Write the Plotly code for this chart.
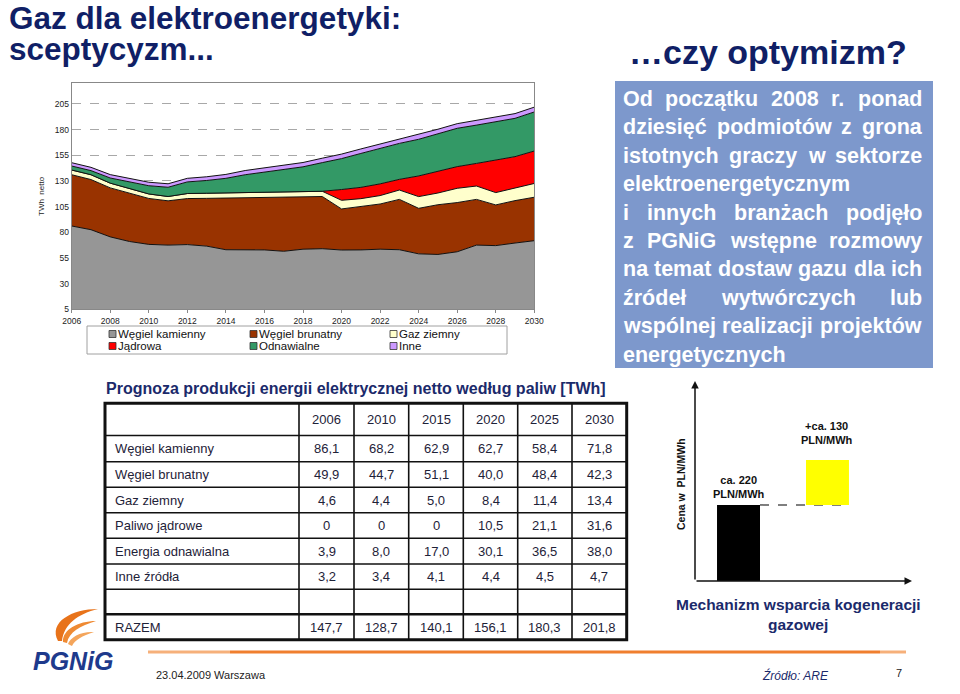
import plotly.graph_objects as go

W, H = 960, 694


def px(x):
    return x / W


def py(y):
    return 1 - y / H


# ---------------- data: stacked area chart ----------------
years = [2006, 2007, 2008, 2009, 2010, 2011, 2012, 2013, 2014, 2015, 2016, 2017, 2018,
         2019, 2020, 2021, 2022, 2023, 2024, 2025, 2026, 2027, 2028, 2029, 2030]
wegiel_kamienny = [86.1, 82.5, 75.5, 71.0, 68.2, 67.5, 68.0, 66.5, 63.0, 62.9, 62.8, 61.5, 63.5,
                   64.0, 62.7, 62.8, 63.5, 63.0, 59.0, 58.4, 61.0, 67.5, 67.0, 69.5, 71.8]
wegiel_brunatny = [49.9, 48.8, 47.7, 47.3, 44.7, 43.1, 44.8, 46.5, 50.2, 51.1, 51.2, 52.5, 50.7,
                   50.8, 40.0, 42.1, 44.0, 49.0, 44.3, 48.4, 47.9, 44.5, 39.6, 41.3, 42.3]
gaz_ziemny = [4.6, 4.7, 4.6, 4.4, 4.4, 4.2, 4.9, 5.0, 5.0, 5.0, 5.0, 5.0, 4.9,
              5.1, 8.4, 7.8, 8.2, 9.1, 11.4, 11.4, 13.9, 13.0, 12.0, 12.0, 13.4]
jadrowa = [0, 0, 0, 0, 0, 0, 0, 0, 0, 0, 0, 0, 0,
           0, 10.5, 11.0, 11.4, 10.4, 20.1, 21.1, 21.1, 22.0, 31.8, 30.8, 31.6]
odnawialne = [3.9, 4.0, 5.0, 6.2, 8.0, 9.0, 11.3, 12.4, 14.3, 17.0, 19.8, 22.0, 24.6,
              27.9, 30.1, 33.0, 34.4, 35.0, 35.7, 36.5, 37.3, 37.3, 37.3, 37.3, 38.0]
inne = [3.2, 3.2, 3.3, 3.3, 3.4, 3.4, 3.5, 3.6, 3.8, 4.1, 4.1, 4.2, 4.2,
        4.3, 4.4, 4.4, 4.4, 4.4, 4.5, 4.5, 4.5, 4.6, 4.6, 4.6, 4.7]

series_names = ["Węgiel kamienny", "Węgiel brunatny", "Gaz ziemny", "Jądrowa", "Odnawialne", "Inne"]
series_values = [wegiel_kamienny, wegiel_brunatny, gaz_ziemny, jadrowa, odnawialne, inne]
series_colors = ["#969696", "#993300", "#FFFFCC", "#FF0000", "#339966", "#CC99FF"]

y_ticks = [5, 30, 55, 80, 105, 130, 155, 180, 205]
x_ticks = [2006, 2008, 2010, 2012, 2014, 2016, 2018, 2020, 2022, 2024, 2026, 2028, 2030]

# ---------------- data: table ----------------
table_years = ["2006", "2010", "2015", "2020", "2025", "2030"]
table_labels = ["Węgiel kamienny", "Węgiel brunatny", "Gaz ziemny", "Paliwo jądrowe",
                "Energia odnawialna", "Inne źródła", "", "RAZEM"]
t_kamienny = ["86,1", "68,2", "62,9", "62,7", "58,4", "71,8"]
t_brunatny = ["49,9", "44,7", "51,1", "40,0", "48,4", "42,3"]
t_gaz = ["4,6", "4,4", "5,0", "8,4", "11,4", "13,4"]
t_jadrowe = ["0", "0", "0", "10,5", "21,1", "31,6"]
t_odnawialna = ["3,9", "8,0", "17,0", "30,1", "36,5", "38,0"]
t_inne = ["3,2", "3,4", "4,1", "4,4", "4,5", "4,7"]
t_puste = ["", "", "", "", "", ""]
t_razem = ["147,7", "128,7", "140,1", "156,1", "180,3", "201,8"]
table_values = [t_kamienny, t_brunatny, t_gaz, t_jadrowe, t_odnawialna, t_inne, t_puste, t_razem]

# ---------------- data: price bars ----------------
price_pos = [1, 2]
price_base = [0, 220]
price_values = [220, 130]
price_colors = ["#000000", "#FFFF00"]
price_labels = ["ca. 220<br>PLN/MWh", "+ca. 130<br>PLN/MWh"]

NAVY = "#101F66"
FONT = "Liberation Sans, Arial, sans-serif"

fig = go.Figure()

for name, vals, col in zip(series_names, series_values, series_colors):
    fig.add_trace(go.Scatter(
        x=years, y=vals, name=name, stackgroup="one", mode="lines",
        line=dict(color="#111111", width=1), fillcolor=col, showlegend=False,
        xaxis="x", yaxis="y", hoverinfo="x+y+name"))

fig.add_trace(go.Bar(
    x=price_pos, y=price_values, base=price_base, width=0.483,
    marker=dict(color=price_colors, line=dict(width=0)),
    xaxis="x2", yaxis="y2", showlegend=False))

shapes = []
annotations = []


def note(x, y, text, size, color="#222", xanchor="center", yanchor="middle", **kw):
    d = dict(x=px(x), y=py(y), xref="paper", yref="paper", text=text, showarrow=False,
             xanchor=xanchor, yanchor=yanchor, borderpad=0, borderwidth=0,
             font=dict(size=size, color=color))
    d.update(kw)
    annotations.append(d)


# ---- area chart axis title
note(41, 196, "TWh  netto", 8, textangle=-90)

# ---- manual legend
shapes.append(dict(type="rect", xref="paper", yref="paper", x0=px(87), x1=px(507),
                   y0=py(326), y1=py(354), line=dict(color="#A0A0A0", width=1), fillcolor="white"))
leg_x = [109, 250, 390]
leg_y = [334, 346]
for i, (name, col) in enumerate(zip(series_names, series_colors)):
    cx = leg_x[i % 3]
    cy = leg_y[i // 3]
    shapes.append(dict(type="rect", xref="paper", yref="paper", x0=px(cx), x1=px(cx + 7),
                       y0=py(cy - 3.5), y1=py(cy + 3.5), fillcolor=col,
                       line=dict(color="#333", width=0.8)))
    note(cx + 9, cy, name, 11.5, "#111", xanchor="left")

# ---- titles
note(9, 18, "<b>Gaz dla elektroenergetyki:</b>", 31.5, NAVY, xanchor="left")
note(9, 49, "<b>sceptycyzm...</b>", 31.5, NAVY, xanchor="left")
note(907, 52, "<b>…czy optymizm?</b>", 34, NAVY, xanchor="right")

# ---- blue text box
shapes.append(dict(type="rect", xref="paper", yref="paper", x0=px(615), x1=px(933),
                   y0=py(81), y1=py(368), fillcolor="#7D98CC", line=dict(width=0), layer="below"))

AB = {" ": 278, ".": 278, ",": 278, ":": 333, "?": 611,
      "a": 556, "b": 611, "c": 556, "d": 611, "e": 556, "f": 333, "g": 611, "h": 611, "i": 278,
      "j": 278, "k": 556, "l": 278, "m": 889, "n": 611, "o": 611, "p": 611, "q": 611, "r": 389,
      "s": 556, "t": 333, "u": 611, "v": 556, "w": 778, "x": 556, "y": 556, "z": 500,
      "ą": 556, "ę": 556, "ć": 556, "ó": 611, "ż": 500, "ź": 500, "ł": 278, "ś": 556, "ń": 611,
      "O": 778, "P": 667, "G": 778, "N": 722}


def tw(s, size):
    return sum(AB.get(ch, 556) for ch in s) / 1000.0 * size


box_lines = [("Od początku 2008 r. ponad", True),
             ("dziesięć podmiotów z grona", True),
             ("istotnych graczy w sektorze", True),
             ("elektroenergetycznym", False),
             ("i innych branżach podjęło", True),
             ("z PGNiG wstępne rozmowy", True),
             ("na temat dostaw gazu dla ich", True),
             ("źródeł wytwórczych lub", True),
             ("wspólnej realizacji projektów", True),
             ("energetycznych", False)]
BS = 21.5
L, R = 623.0, 922.0
for i, (line, just) in enumerate(box_lines):
    yy = 99 + 28.4 * i
    words = line.split()
    if just and len(words) > 1:
        tot = sum(tw(w, BS) for w in words)
        gap = (R - L - tot) / (len(words) - 1)
        x = L
        for w in words:
            note(x, yy, "<b>%s</b>" % w, BS, "white", xanchor="left")
            x += tw(w, BS) + gap
    else:
        note(L, yy, "<b>%s</b>" % line, BS, "white", xanchor="left")

# ---- table
note(106, 388, "<b>Prognoza produkcji energii elektrycznej netto według paliw [TWh]</b>", 16,
     "#1B2A6B", xanchor="left")
col_x = [105, 299, 354, 408.7, 463.3, 517.7, 572, 626.7]
row_y = [403.3, 435.5, 461.7, 487.3, 512.7, 538.3, 564, 589.3, 614.3, 639.8]
for xv in col_x[1:-1]:
    shapes.append(dict(type="line", xref="paper", yref="paper", x0=px(xv), x1=px(xv),
                       y0=py(row_y[0]), y1=py(row_y[-1]), line=dict(color="#111", width=1.6)))
inner_rows = row_y[1:-1]
for k, yv in enumerate(inner_rows):
    wdt = 2.6 if k == len(inner_rows) - 1 else 1.6
    shapes.append(dict(type="line", xref="paper", yref="paper", x0=px(col_x[0]), x1=px(col_x[-1]),
                       y0=py(yv), y1=py(yv), line=dict(color="#111", width=wdt)))
shapes.append(dict(type="rect", xref="paper", yref="paper", x0=px(col_x[0]), x1=px(col_x[-1]),
                   y0=py(row_y[0]), y1=py(row_y[-1]), line=dict(color="#111", width=3)))
TCOL = "#1E2238"
for j, yr in enumerate(table_years):
    note((col_x[j + 1] + col_x[j + 2]) / 2, (row_y[0] + row_y[1]) / 2, yr, 13, TCOL)
for r, (lab, vals) in enumerate(zip(table_labels, table_values)):
    yc = (row_y[r + 1] + row_y[r + 2]) / 2
    if lab:
        note(115, yc, lab, 13, TCOL, xanchor="left")
    for j, v in enumerate(vals):
        if v:
            note((col_x[j + 1] + col_x[j + 2]) / 2, yc, v, 13, TCOL)

# ---- price bar chart decorations
annotations.append(dict(x=px(695), y=py(381), xref="paper", yref="paper", text="", showarrow=True,
                        ax=0, ay=200, arrowhead=2, arrowsize=1, arrowwidth=1.5, arrowcolor="#111"))
annotations.append(dict(x=px(912), y=py(581), xref="paper", yref="paper", text="", showarrow=True,
                        ax=-217, ay=0, arrowhead=2, arrowsize=1, arrowwidth=1.5, arrowcolor="#111"))
shapes.append(dict(type="line", xref="x2", yref="y2", x0=price_pos[0] + 0.2415, x1=price_pos[1] + 0.2415,
                   y0=price_base[1], y1=price_base[1], line=dict(color="#555", width=1.5, dash="dash"),
                   layer="below"))
for p, b, v, lab, ys in zip(price_pos, price_base, price_values, price_labels, [3, 12]):
    annotations.append(dict(x=p, y=b + v, xref="x2", yref="y2", text="<b>%s</b>" % lab,
                            xanchor="center", yanchor="bottom", yshift=ys, showarrow=False,
                            font=dict(size=11, color="#111")))
note(681, 484, "<b>Cena w  PLN/MWh</b>", 10.5, "#111", textangle=-90)
note(798, 604, "<b>Mechanizm wsparcia kogeneracji</b>", 15.5, "#1B2A6B")
note(798, 624, "<b>gazowej</b>", 15.5, "#1B2A6B")

# ---- footer
shapes.append(dict(type="line", xref="paper", yref="paper", x0=px(148), x1=px(230), y0=py(652), y1=py(652),
                   line=dict(color="#F6B07A", width=3)))
shapes.append(dict(type="line", xref="paper", yref="paper", x0=px(230), x1=px(880), y0=py(652), y1=py(652),
                   line=dict(color="#F07F2E", width=3)))
shapes.append(dict(type="line", xref="paper", yref="paper", x0=px(880), x1=px(906), y0=py(652), y1=py(652),
                   line=dict(color="#F6B07A", width=3)))
note(156, 675, "23.04.2009 Warszawa", 11, "#222", xanchor="left")
note(795, 675, "<i>Źródło: ARE</i>", 12, "#1B2A6B")
note(899, 673, "7", 11, "#222")
note(73, 661, "<b><i>PGNiG</i></b>", 25, "#1E3A8C")


def path(segs):
    out = []
    for cmd, pts in segs:
        out.append(cmd + " " + " ".join("%.5f,%.5f" % (px(a), py(b)) for a, b in pts))
    return " ".join(out) + " Z"


feathers = [
    ("#E8731A", [("M", [(58, 641)]), ("C", [(48, 622), (72, 609), (98, 609)]),
                 ("C", [(78, 614), (64, 624), (62, 641)])]),
    ("#EF8A33", [("M", [(63, 642)]), ("C", [(62, 630), (78, 621), (96, 621)]),
                 ("C", [(80, 626), (69, 632), (67, 643)])]),
    ("#F4A55B", [("M", [(68, 644)]), ("C", [(70, 637), (82, 631), (94, 632)]),
                 ("C", [(82, 636), (75, 640), (72, 646)])]),
]
for col, segs in feathers:
    shapes.append(dict(type="path", xref="paper", yref="paper", fillcolor=col, line=dict(width=0),
                       path=path(segs)))

fig.update_layout(
    width=W, height=H, autosize=False,
    margin=dict(l=0, r=0, t=0, b=0, pad=0, autoexpand=False),
    paper_bgcolor="white", plot_bgcolor="white",
    font=dict(family=FONT, color="#222"),
    showlegend=False,
    xaxis=dict(domain=[px(71.7), px(534.3)], range=[2006, 2030], tickvals=x_ticks,
               tickfont=dict(size=8.5, color="#222"), showline=True, mirror=True,
               linecolor="#888", linewidth=1, ticks="outside", ticklen=3, tickcolor="#888",
               showgrid=False, zeroline=False, anchor="y", automargin=False),
    yaxis=dict(domain=[py(309.3), py(83.3)], range=[5, 225], tickvals=y_ticks,
               tickfont=dict(size=8.5, color="#222"), showline=True, mirror=True,
               linecolor="#888", linewidth=1, ticks="", showgrid=True, gridcolor="#A8A8A8",
               griddash="dash", gridwidth=1, zeroline=False, anchor="x", automargin=False),
    xaxis2=dict(domain=[px(695), px(900)], range=[0.511, 2.815], visible=False, anchor="y2",
                automargin=False),
    yaxis2=dict(domain=[py(581), py(385)], range=[0, 567], visible=False, anchor="x2",
                automargin=False),
    shapes=shapes,
    annotations=annotations,
)

fig.write_html("out.html")

# remove the browser's default page margin so the 960x694 figure fills the window exactly
with open("out.html", "r", encoding="utf-8") as f:
    html = f.read()
html = html.replace("<head>", "<head><style>html,body{margin:0;padding:0;overflow:hidden;}</style>", 1)
with open("out.html", "w", encoding="utf-8") as f:
    f.write(html)
